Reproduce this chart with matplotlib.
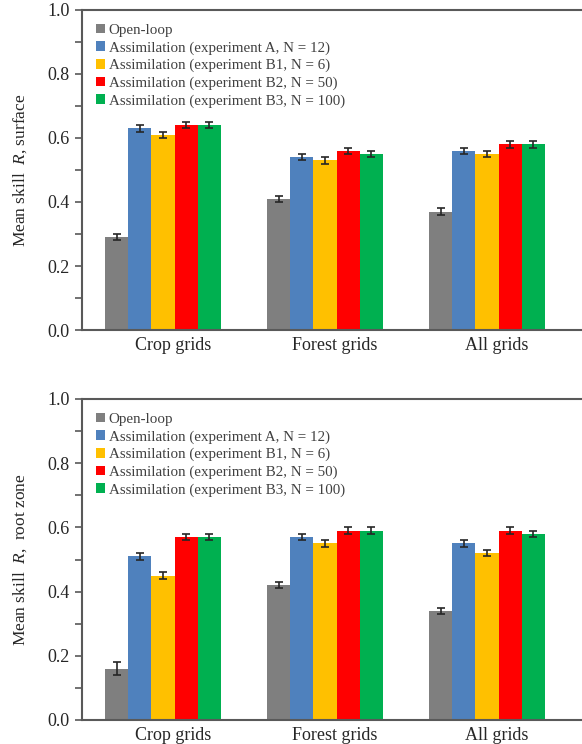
import matplotlib
matplotlib.use("Agg")
import matplotlib.pyplot as plt
import numpy as np
from matplotlib.ticker import MultipleLocator

plt.rcParams["font.family"] = ["Liberation Serif", "DejaVu Serif"]
plt.rcParams["mathtext.fontset"] = "custom"
plt.rcParams["mathtext.it"] = "Liberation Serif:italic"
plt.rcParams["mathtext.rm"] = "Liberation Serif"

# Grid types and experiment runs
categories = ["Crop grids", "Forest grids", "All grids"]
series_names = [
    "Open-loop",
    "Assimilation (experiment A, N = 12)",
    "Assimilation (experiment B1, N = 6)",
    "Assimilation (experiment B2, N = 50)",
    "Assimilation (experiment B3, N = 100)",
]
colors = ["#7f7f7f", "#4f81bd", "#ffc000", "#ff0000", "#00b050"]

# Mean skill R for surface soil moisture
surface_openloop = [0.29, 0.41, 0.37]
surface_exp_a = [0.63, 0.54, 0.56]
surface_exp_b1 = [0.61, 0.53, 0.55]
surface_exp_b2 = [0.64, 0.56, 0.58]
surface_exp_b3 = [0.64, 0.55, 0.58]
surface_err = [0.01, 0.01, 0.01]

# Mean skill R for root zone soil moisture
root_openloop = [0.16, 0.42, 0.34]
root_exp_a = [0.51, 0.57, 0.55]
root_exp_b1 = [0.45, 0.55, 0.52]
root_exp_b2 = [0.57, 0.59, 0.59]
root_exp_b3 = [0.57, 0.59, 0.58]
root_err_openloop = [0.02, 0.01, 0.01]
root_err = [0.01, 0.01, 0.01]

panels = [
    (
        [surface_openloop, surface_exp_a, surface_exp_b1, surface_exp_b2, surface_exp_b3],
        [surface_err] * 5,
        "Mean skill  $R$, surface",
    ),
    (
        [root_openloop, root_exp_a, root_exp_b1, root_exp_b2, root_exp_b3],
        [root_err_openloop] + [root_err] * 4,
        "Mean skill  $R$,  root zone",
    ),
]

W, H = 582, 744
fig = plt.figure(figsize=(W / 100, H / 100), dpi=100)

left_px = 82
axes_rects = [(10, 330), (399, 720)]  # top and bottom pixel rows of each plot area

bar_w = 0.143
x = np.arange(len(categories))
spine_col = "#595959"

for (values, errs, ylabel), (top_px, bot_px) in zip(panels, axes_rects):
    ax = fig.add_axes([left_px / W, (H - bot_px) / H, (W - left_px) / W, (bot_px - top_px) / H])
    for k, (vals, err, name, col) in enumerate(zip(values, errs, series_names, colors)):
        pos = x + (k - 2) * bar_w
        ax.bar(pos, vals, width=bar_w, color=col, label=name, zorder=2)
        ax.errorbar(pos, vals, yerr=err, fmt="none", ecolor="#262626",
                    elinewidth=1.2, capsize=3.2, capthick=1.2, zorder=3)

    ax.set_xlim(-0.5, 2.5 + 14 / 162)
    ax.set_ylim(0, 1.0)
    ax.yaxis.set_major_locator(MultipleLocator(0.2))
    ax.yaxis.set_minor_locator(MultipleLocator(0.1))
    ax.yaxis.set_major_formatter(matplotlib.ticker.FormatStrFormatter("%.1f"))
    ax.set_xticks(x + 0.06)
    ax.set_xticklabels(categories, fontsize=13, color="#262626")
    ax.tick_params(axis="x", length=0, pad=5)
    ax.tick_params(axis="y", which="major", direction="out", length=5, width=1.2,
                   color=spine_col, labelsize=13, labelcolor="#262626", pad=4)
    ax.tick_params(axis="y", which="minor", direction="out", length=5, width=1.2,
                   color=spine_col)
    for side in ["top", "left", "bottom"]:
        ax.spines[side].set_color(spine_col)
        ax.spines[side].set_linewidth(1.5)
    ax.spines["right"].set_visible(False)

    ax.set_ylabel(ylabel, fontsize=12.5, color="#262626")
    ax.yaxis.set_label_coords(-0.105, 0.5)

    ax.legend(loc="upper left", bbox_to_anchor=(0.01, 0.985), frameon=False,
              fontsize=10.8, handlelength=0.6, handleheight=0.6, handletextpad=0.25,
              labelspacing=0.28, borderaxespad=0.2, labelcolor="#404040")

fig.savefig("out.png", dpi=100)
